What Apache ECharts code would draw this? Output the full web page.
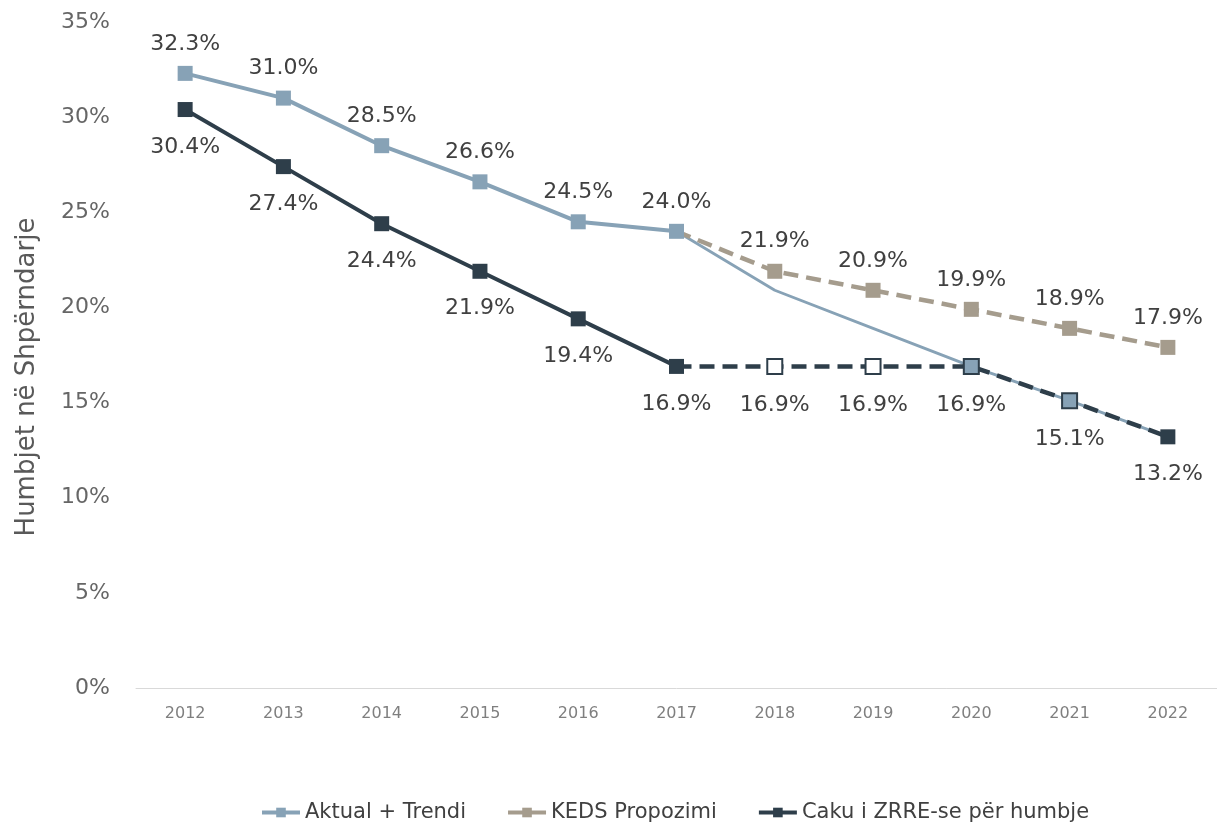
<!DOCTYPE html>
<html><head><meta charset="utf-8">
<script src="https://cdn.jsdelivr.net/npm/echarts@6/dist/echarts.min.js"></script>
<style>html,body{margin:0;padding:0;background:#fff}#c{width:1217px;height:828px}</style>
</head><body><div id="c"></div>
<script>
const years = ['2012','2013','2014','2015','2016','2017','2018','2019','2020','2021','2022'];
const aktual = [32.3, 31.0, 28.5, 26.6, 24.5, 24.0];          // 2012-2017
const trendi = [24.0, 20.9, 18.9, 16.9, 15.1, 13.2];          // 2017-2022
const keds = [24.0, 21.9, 20.9, 19.9, 18.9, 17.9];            // 2017-2022
const zrreAktual = [30.4, 27.4, 24.4, 21.9, 19.4, 16.9];      // 2012-2017
const zrreCaku = [16.9, 16.9, 16.9, 16.9, 15.1, 13.2];        // 2017-2022
const yTicks = [0, 5, 10, 15, 20, 25, 30, 35];

const cBlue = '#87a2b6', cTan = '#a59c8d', cDark = '#2e3e4a';
const FONT = 'DejaVu Sans';
const SYM = 15;
const pad = (arr, before, after) => Array(before).fill(null).concat(arr, Array(after).fill(null));
const lbl = (pos, dist) => ({show: true, position: pos, distance: dist, fontFamily: FONT, fontSize: 22, color: '#404040', formatter: p => p.value == null ? '' : p.value.toFixed(1) + '%'});
const dash = [15, 8];

const kedsData = pad(keds, 5, 0).map((v, i) => i === 5 ? {value: v, symbol: 'none', label: {show: false}} : v);
const cakuData = pad(zrreCaku, 5, 0).map((v, i) => {
  if (v == null) return v;
  if (i === 5) return {value: v, label: {show: false}, symbol: 'none'};
  if (i === 6 || i === 7) return {value: v, itemStyle: {color: '#ffffff', borderColor: cDark, borderWidth: 2}};
  if (i === 8 || i === 9) return {value: v, itemStyle: {color: cBlue, borderColor: cDark, borderWidth: 2}};
  return v;
});

const chart = echarts.init(document.getElementById('c'));
chart.setOption({
  animation: false,
  grid: {left: 136, right: 0, top: 22, bottom: 140},
  legend: {
    bottom: 0, left: 255, itemGap: 40, itemWidth: 38, itemHeight: 12,
    textStyle: {fontFamily: FONT, fontSize: 21, color: '#404040'},
    lineStyle: {type: 'solid', width: 4},
    data: ['Aktual + Trendi', 'KEDS Propozimi', 'Caku i ZRRE-se për humbje']
  },
  xAxis: {
    type: 'category', data: years, boundaryGap: true,
    axisLine: {lineStyle: {color: '#d9d9d9', width: 1}},
    axisTick: {show: false},
    axisLabel: {fontFamily: FONT, fontSize: 16, color: '#7f7f7f', margin: 18}
  },
  yAxis: {
    type: 'value', min: yTicks[0], max: yTicks[yTicks.length - 1], interval: 5,
    name: 'Humbjet në Shpërndarje', nameLocation: 'middle', nameGap: 96, nameRotate: 90,
    nameTextStyle: {fontFamily: FONT, fontSize: 26, color: '#595959', padding: [0, 44, 0, 0]},
    axisLine: {show: false}, axisTick: {show: false}, splitLine: {show: false},
    axisLabel: {fontFamily: FONT, fontSize: 22, color: '#666666', margin: 26, formatter: v => v + '%'}
  },
  series: [
    {name: 'Aktual + Trendi', type: 'line', data: pad(trendi, 5, 0), showSymbol: false, symbol: 'rect', symbolSize: SYM,
     lineStyle: {color: cBlue, width: 2.8}, itemStyle: {color: cBlue}, z: 2},
    {name: 'Aktual + Trendi', type: 'line', data: pad(aktual, 0, 5), symbol: 'rect', symbolSize: SYM,
     lineStyle: {color: cBlue, width: 4}, itemStyle: {color: cBlue}, label: lbl('top', 11), z: 3},
    {name: 'KEDS Propozimi', type: 'line', data: kedsData, symbol: 'rect', symbolSize: SYM,
     lineStyle: {color: cTan, width: 4.5, type: dash}, itemStyle: {color: cTan}, label: lbl('top', 11), z: 3},
    {name: 'Caku i ZRRE-se për humbje', type: 'line', data: pad(zrreAktual, 0, 5), symbol: 'rect', symbolSize: SYM,
     lineStyle: {color: cDark, width: 4}, itemStyle: {color: cDark}, label: lbl('bottom', 19), z: 4},
    {name: 'Caku i ZRRE-se për humbje', type: 'line', data: cakuData, symbol: 'rect', symbolSize: SYM,
     lineStyle: {color: cDark, width: 4.5, type: dash}, itemStyle: {color: cDark}, label: lbl('bottom', 19), z: 4}
  ]
});
</script></body></html>
